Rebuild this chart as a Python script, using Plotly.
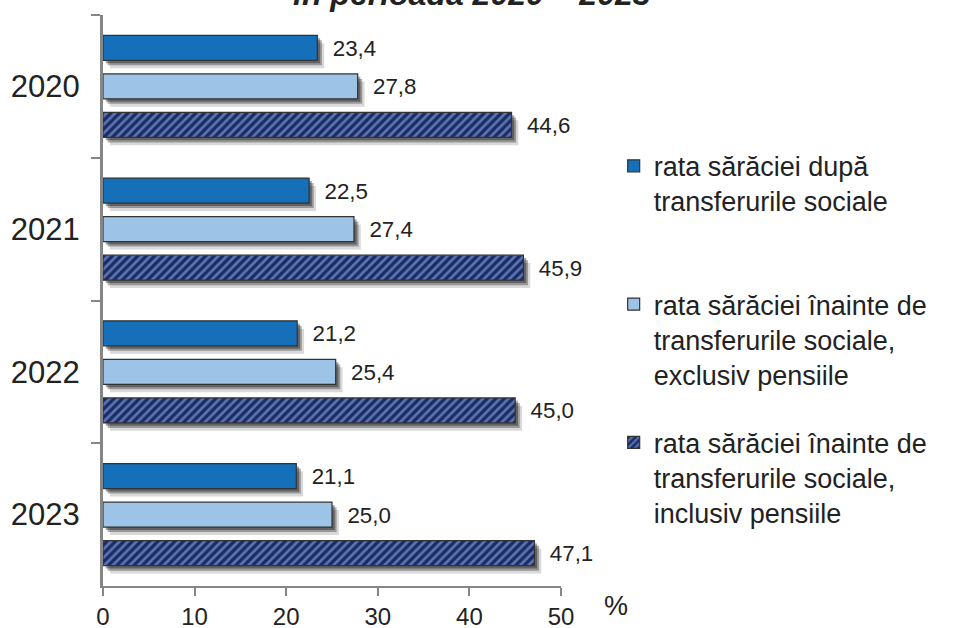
import plotly.graph_objects as go

# Data
years = ['2020', '2021', '2022', '2023']
dupa_transferuri = [23.4, 22.5, 21.2, 21.1]
inainte_excl_pensii = [27.8, 27.4, 25.4, 25.0]
inainte_incl_pensii = [44.6, 45.9, 45.0, 47.1]

series_names = [
    'rata sărăciei după<br>transferurile sociale<br> ',
    'rata sărăciei înainte de<br>transferurile sociale,<br>exclusiv pensiile',
    'rata sărăciei înainte de<br>transferurile sociale,<br>inclusiv pensiile',
]

FONT = 'Liberation Sans, Arial, sans-serif'
DARK_BLUE = '#1570b9'
LIGHT_BLUE = '#9dc3e6'
NAVY = '#1b2a6b'

bar_w = 0.175
centers = [-0.27, 0.0, 0.27]


def fmt(v):
    return '\u00a0\u00a0' + f'{v:.1f}'.replace('.', ',')


fig = go.Figure()

all_series = [dupa_transferuri, inainte_excl_pensii, inainte_incl_pensii]

# drop shadows behind the bars
for vals, c in zip(all_series, centers):
    for dx, dy, alpha in [(0.75, 0.055, 0.15), (0.5, 0.035, 0.3), (0.3, 0.02, 0.35)]:
        fig.add_trace(go.Bar(
            y=years, x=vals, base=dx, orientation='h',
            width=bar_w, offset=c - bar_w / 2 + dy,
            marker=dict(color=f'rgba(0,0,0,{alpha})', line=dict(width=0)),
            showlegend=False, hoverinfo='skip',
        ))

# main bars
styles = [
    dict(color=DARK_BLUE),
    dict(color=LIGHT_BLUE),
    dict(color=NAVY, pattern=dict(shape='/', fgcolor=LIGHT_BLUE,
                                  bgcolor=NAVY, size=6, solidity=0.45)),
]
for i, (vals, c, name, st) in enumerate(zip(all_series, centers, series_names, styles)):
    fig.add_trace(go.Bar(
        y=years, x=vals, orientation='h', name=name,
        width=bar_w, offset=c - bar_w / 2,
        marker=dict(line=dict(color='#333333', width=1.2), **st),
        text=[fmt(v) for v in vals], textposition='outside',
        textfont=dict(size=25, color='#222222', family=FONT),
        cliponaxis=False, legendgroup=f'g{i}',
    ))

fig.update_layout(
    width=960, height=628,
    barmode='overlay',
    plot_bgcolor='white', paper_bgcolor='white',
    margin=dict(l=103, r=399, t=15, b=42, autoexpand=False),
    font=dict(family=FONT, color='#222222'),
    showlegend=True,
    legend=dict(
        x=1.115, xanchor='left', y=0.778, yanchor='top',
        font=dict(size=27, family=FONT, color='#222222'),
        valign='top', traceorder='grouped', tracegroupgap=30,
        bgcolor='rgba(0,0,0,0)',
    ),
    xaxis=dict(
        range=[0, 50], dtick=10, showgrid=False, zeroline=False,
        showline=True, linecolor='#868686', linewidth=2,
        ticks='outside', ticklen=8, tickwidth=2, tickcolor='#868686',
        tickfont=dict(size=24, color='#222222'), automargin=False,
        ticklabelstandoff=0,
    ),
    yaxis=dict(
        type='category', autorange='reversed', showgrid=False,
        showline=True, linecolor='#868686', linewidth=3,
        ticks='outside', tickson='boundaries', ticklen=9, tickwidth=2,
        tickcolor='#868686', tickfont=dict(size=31, color='#222222'),
        ticklabelstandoff=14, automargin=False,
    ),
    annotations=[
        dict(text='%', xref='paper', yref='paper', x=1.12, y=0.0,
             xanchor='center', yanchor='middle', yshift=-20, showarrow=False,
             font=dict(size=27, color='#222222')),
        dict(text='<b><i>în perioada 2020 – 2023</i></b>', xref='paper', yref='paper',
             x=0.806, y=1, xanchor='center', yanchor='bottom', yshift=1,
             showarrow=False, font=dict(size=32, color='#222222')),
    ],
)

# drop the page's default body margin so the figure sits at the window's corner
fig.write_html('out.html', config={'displayModeBar': False},
               post_script="document.body.style.margin='0';")
